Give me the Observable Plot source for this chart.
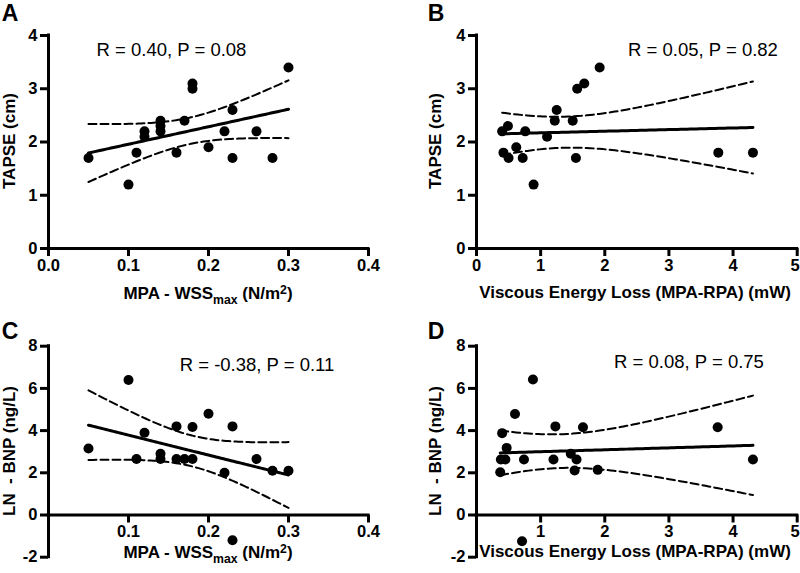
<!DOCTYPE html>
<html><head><meta charset="utf-8">
<script src="https://cdn.jsdelivr.net/npm/d3@7"></script>
<script src="https://cdn.jsdelivr.net/npm/@observablehq/plot@0.6"></script>
<style>
body{margin:0;background:#fff;}
#fig{position:relative;width:800px;height:573px;overflow:hidden;background:#fff;font-family:"Liberation Sans",Arial,Helvetica,sans-serif;color:#000;}
.panel{position:absolute;}
.lbl{position:absolute;transform:translate(-50%,-50%);white-space:nowrap;line-height:1;}
.rot{transform:translate(-50%,-50%) rotate(-90deg);}
.b{font-weight:bold;}
.sub{font-size:0.72em;position:relative;top:0.38em;}
.sup{font-size:0.72em;position:relative;top:-0.42em;}
</style></head>
<body><div id="fig"></div>
<script>
// ---------- data ----------
// Panel A: MPA-WSSmax vs TAPSE
const wssA   = [0.05,0.10,0.11,0.12,0.12,0.14,0.14,0.14,0.16,0.17,0.18,0.18,0.20,0.22,0.23,0.23,0.26,0.28,0.30];
const tapseA = [1.7, 1.2, 1.8, 2.2, 2.1, 2.4, 2.3, 2.2, 1.8, 2.4, 3.1, 3.0, 1.9, 2.2, 2.6, 1.7, 2.2, 1.7, 3.4];
// Panel B: viscous energy loss vs TAPSE
const velB   = [0.40,0.49,0.76,1.10,0.42,0.50,0.62,0.72,0.89,1.22,1.25,1.50,1.55,1.57,1.68,1.92,3.77,4.31];
const tapseB = [2.2, 2.3, 2.2, 2.1, 1.8, 1.7, 1.9, 1.7, 1.2, 2.4, 2.6, 2.4, 1.7, 3.0, 3.1, 3.4, 1.8, 1.8];
// Panel C: MPA-WSSmax vs LN-BNP
const wssC = [0.05,0.10,0.11,0.12,0.14,0.14,0.16,0.16,0.17,0.18,0.18,0.20,0.22,0.23,0.23,0.26,0.28,0.30];
const bnpC = [3.15,6.4, 2.65,3.9, 2.9, 2.65,4.2, 2.65,2.65,4.17,2.65,4.8, 2.0, 4.2,-1.2, 2.65,2.1, 2.1];
// Panel D: viscous energy loss vs LN-BNP
const velD = [0.40,0.47,0.38,0.45,0.74,1.20,1.23,1.66,1.47,1.56,1.53,1.89,0.37,0.60,0.71,0.88,3.76,4.31];
const bnpD = [3.88,3.18,2.63,2.63,2.63,2.63,4.2, 4.16,2.9, 2.63,2.11,2.14,2.03,4.79,-1.24,6.42,4.16,2.63];

const statA = "R = 0.40, P = 0.08";
const statB = "R = 0.05, P = 0.82";
const statC = "R = -0.38, P = 0.11";
const statD = "R = 0.08, P = 0.75";

const ticksWss = [0, 0.1, 0.2, 0.3, 0.4];
const ticksVel = [0, 1, 2, 3, 4, 5];
const ticksTapse = [0, 1, 2, 3, 4];
const ticksBnp = [-2, 0, 2, 4, 6, 8];

// ---------- regression with 95% CI of the mean ----------
function fit(xs, ys) {
  const n = xs.length, mx = d3.mean(xs), my = d3.mean(ys);
  let sxx = 0, sxy = 0;
  for (let i = 0; i < n; i++) { sxx += (xs[i]-mx)**2; sxy += (xs[i]-mx)*(ys[i]-my); }
  const b = sxy / sxx, a = my - b * mx;
  let sse = 0;
  for (let i = 0; i < n; i++) sse += (ys[i] - a - b*xs[i])**2;
  const s = Math.sqrt(sse / (n - 2)), df = n - 2, z = 1.959964;
  const t = z + (z**3 + z)/(4*df) + (5*z**5 + 16*z**3 + 3*z)/(96*df*df);
  const [x0, x1] = d3.extent(xs);
  return d3.range(0, 81).map(i => {
    const x = x0 + (x1 - x0) * i / 80, yh = a + b * x;
    const se = s * Math.sqrt(1/n + (x - mx)**2 / sxx);
    return {x, y: yh, lo: yh - t*se, hi: yh + t*se};
  });
}

const fig = document.getElementById("fig");
const FONT = '"Liberation Sans", Arial, Helvetica, sans-serif';
const TICKFONT = 16.5;

function panel(o) {
  const innerH = o.height - o.mT - o.mB;
  const tickLen = 8 * (o.yDomain[1] - o.yDomain[0]) / innerH;
  const pts = o.xs.map((x, i) => ({x, y: o.ys[i]}));
  const curve = fit(o.xs, o.ys);
  const xt = o.xTicks.filter(d => !o.skipZero || d !== 0);
  const xmax = o.xDomain[1];
  const inner = xt.filter(d => d !== xmax), last = xt.filter(d => d === xmax);
  const plot = Plot.plot({
    width: o.width, height: o.height,
    marginLeft: o.mL, marginRight: o.mR, marginTop: o.mT, marginBottom: o.mB,
    x: {domain: o.xDomain, axis: null},
    y: {domain: o.yDomain},
    style: {fontFamily: FONT, color: "black", background: "transparent", overflow: "visible"},
    marks: [
      Plot.axisY(o.yTicks, {anchor: "left", tickSize: 8, tickPadding: 3, strokeWidth: 3,
        fontSize: TICKFONT, fontWeight: "bold", tickFormat: d => String(d), label: null}),
      Plot.ruleX(xt, {x: d => d, y1: 0, y2: -tickLen, strokeWidth: 3}),
      Plot.text(inner, {x: d => d, y: 0, dy: 17, text: o.xFmt, fontSize: TICKFONT, fontWeight: "bold"}),
      Plot.text(last, {x: d => d, y: 0, dy: 17, text: o.xFmt, fontSize: TICKFONT, fontWeight: "bold",
        textAnchor: o.edge ? "end" : "middle", dx: o.edge ? 2.5 : 0}),
      Plot.ruleX([0], {y1: o.yDomain[0], y2: o.yDomain[1], strokeWidth: 3, strokeLinecap: "square"}),
      Plot.ruleY([0], {x1: o.xDomain[0], x2: o.xDomain[1], strokeWidth: 3, strokeLinecap: "square"}),
      Plot.line(curve, {x: "x", y: "hi", strokeWidth: 2, strokeDasharray: "8,4"}),
      Plot.line(curve, {x: "x", y: "lo", strokeWidth: 2, strokeDasharray: "8,4"}),
      Plot.line(curve, {x: "x", y: "y", strokeWidth: 3}),
      Plot.dot(pts, {x: "x", y: "y", r: 5, fill: "black", stroke: "none"})
    ]
  });
  plot.classList.add("panel");
  plot.style.left = o.left + "px";
  plot.style.top = o.top + "px";
  fig.appendChild(plot);
}

const fmt1 = d3.format(".1f");
panel({xs: wssA, ys: tapseA, xDomain: [0, 0.4], yDomain: [0, 4], xTicks: ticksWss, xFmt: fmt1, yTicks: ticksTapse,
  left: 0, top: 0, width: 400, height: 290, mL: 48, mR: 32, mT: 35, mB: 42});
panel({xs: velB, ys: tapseB, xDomain: [0, 5], yDomain: [0, 4], xTicks: ticksVel, xFmt: d => String(d), yTicks: ticksTapse, edge: true,
  left: 400, top: 0, width: 400, height: 290, mL: 76, mR: 3.3, mT: 35, mB: 42});
panel({xs: wssC, ys: bnpC, xDomain: [0, 0.4], yDomain: [-2, 8], xTicks: ticksWss, xFmt: fmt1, yTicks: ticksBnp, skipZero: true,
  left: 0, top: 290, width: 400, height: 283, mL: 48, mR: 32, mT: 55.7, mB: 16.3});
panel({xs: velD, ys: bnpD, xDomain: [0, 5], yDomain: [-2, 8], xTicks: ticksVel, xFmt: d => String(d), yTicks: ticksBnp, skipZero: true, edge: true,
  left: 400, top: 290, width: 400, height: 283, mL: 76, mR: 3.3, mT: 55.7, mB: 16.3});

// ---------- text overlays ----------
function label(html, x, y, size, cls) {
  const d = document.createElement("div");
  d.className = "lbl " + (cls || "");
  d.style.left = x + "px"; d.style.top = y + "px"; d.style.fontSize = size + "px";
  d.innerHTML = html;
  fig.appendChild(d);
}
const wssTitle = 'MPA - WSS<span class="sub">max</span> (N/m<span class="sup">2</span>)';
const velTitle = 'Viscous Energy Loss (MPA-RPA) (mW)';
label("A", 10, 13, 23, "b"); label("B", 436, 13, 23, "b");
label("C", 10, 331, 23, "b"); label("D", 436, 331, 23, "b");
label(statA, 171.5, 50, 18.5); label(statB, 703, 50, 18.5);
label(statC, 257, 365, 18.5); label(statD, 689, 362, 18.5);
label(wssTitle, 208, 293, 17, "b"); label(velTitle, 635, 292, 17, "b");
label(wssTitle, 208, 552, 17, "b"); label(velTitle, 635, 551, 17, "b");
label("TAPSE (cm)", 9, 141, 17, "b rot"); label("TAPSE (cm)", 435, 141, 17, "b rot");
label("LN&nbsp; - BNP (ng/L)", 9, 451, 17, "b rot"); label("LN&nbsp; - BNP (ng/L)", 435, 451, 17, "b rot");
</script>
</body></html>
